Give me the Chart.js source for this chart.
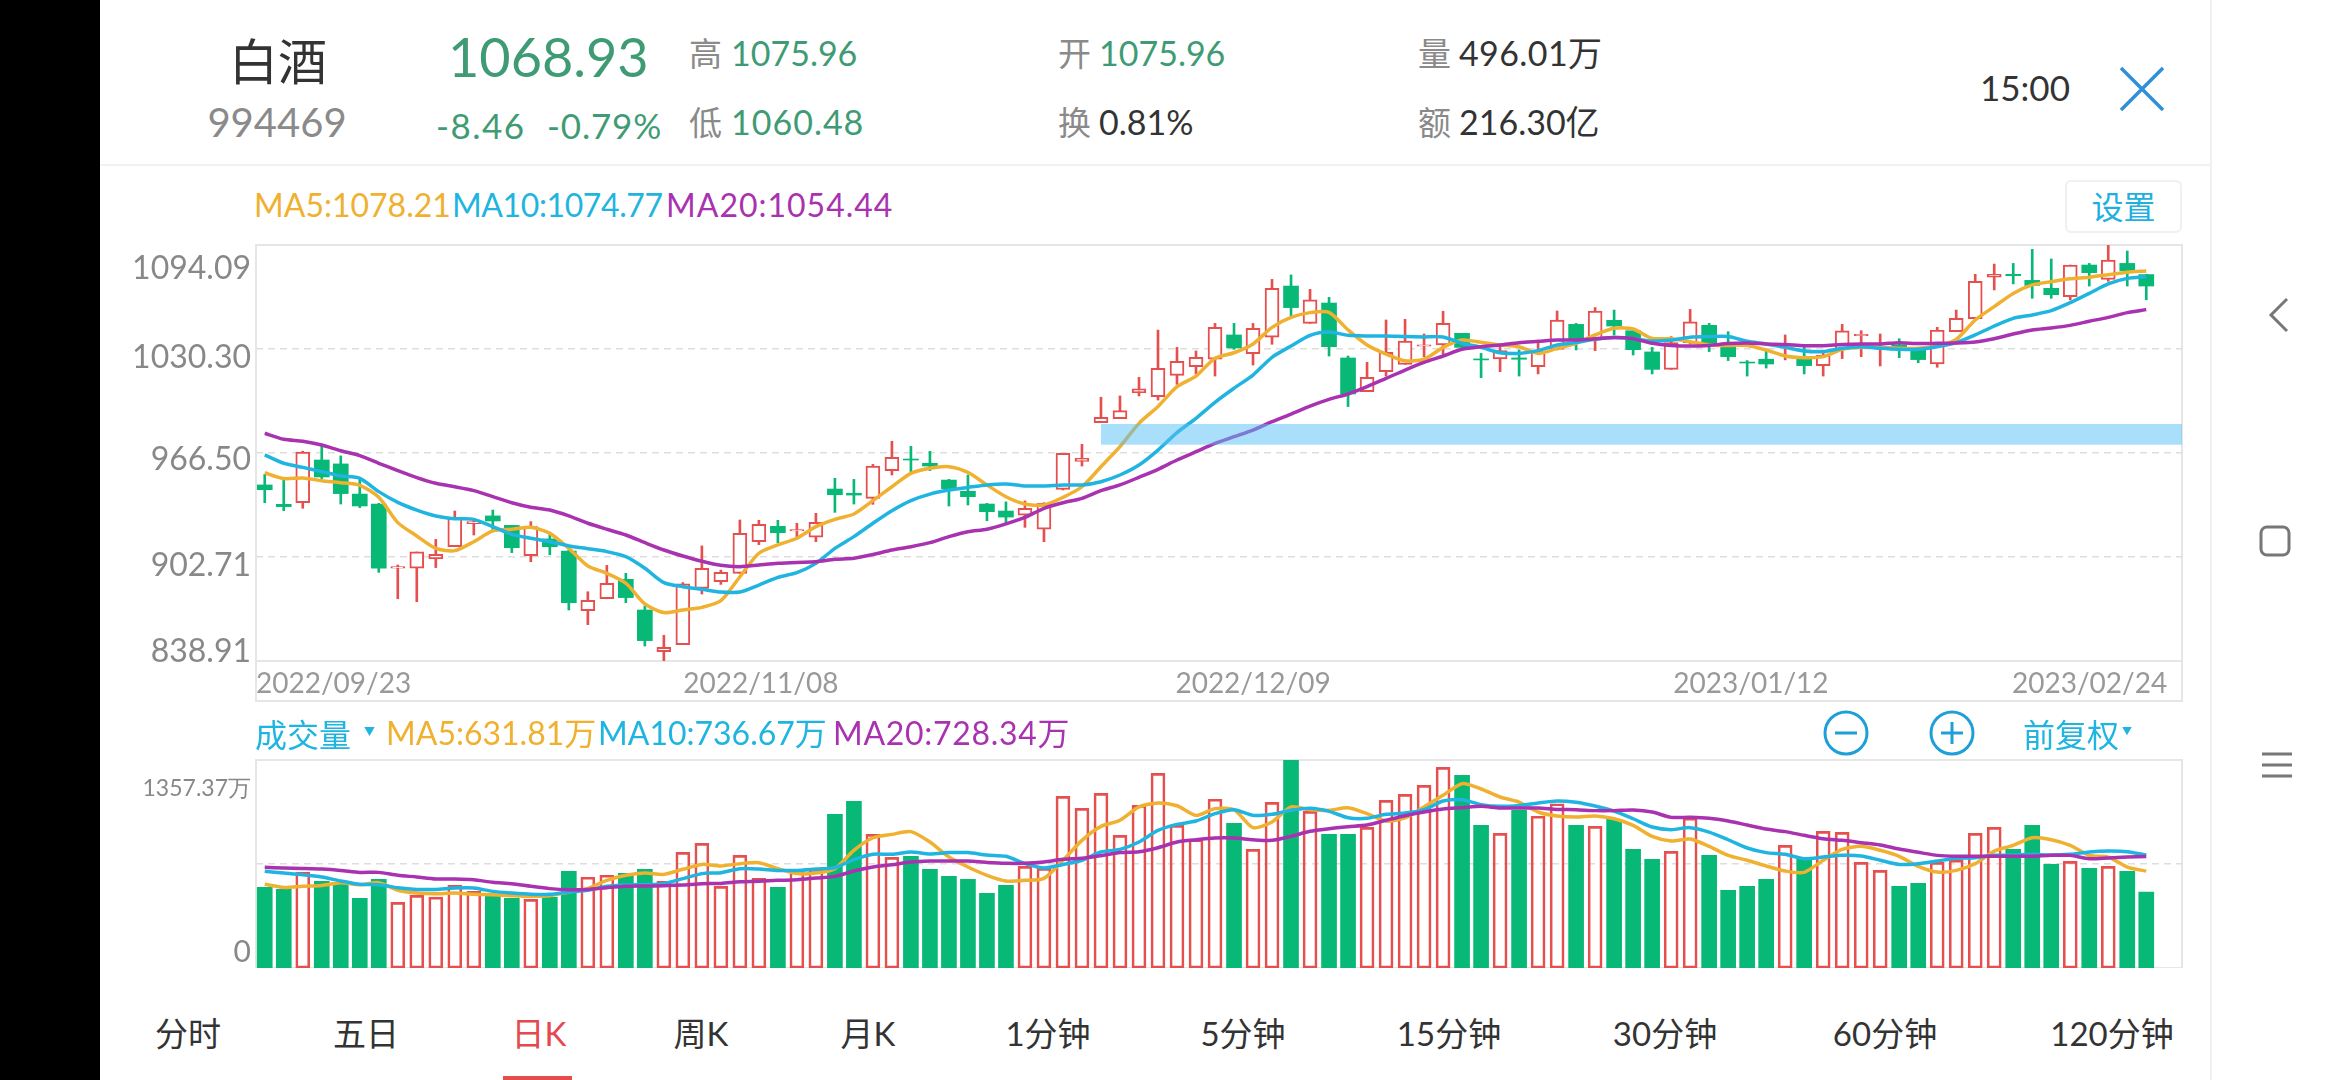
<!DOCTYPE html>
<html>
<head>
<meta charset="utf-8">
<script src="https://cdn.jsdelivr.net/npm/chart.js@4/dist/chart.umd.min.js"></script>
<style>
  html, body { margin: 0; padding: 0; background: #fff; }
  body { width: 2340px; height: 1080px; position: relative; overflow: hidden;
         font-family: Lato, "Noto Sans CJK SC", sans-serif; color: #333; }
  canvas { position: absolute; left: 100px; }
  .t { position: absolute; white-space: nowrap; line-height: 1; transform: translateY(-50%); }
  .c { transform: translate(-50%, -50%); }
  .gray { color: #8a8a8a; }
  .green { color: #3f9b74; }
  .orange { color: #f0b030; }
  .blue { color: #1fb5e0; }
  .purple { color: #a832b0; }
  #black_bar { position: absolute; left: 0; top: 0; width: 100px; height: 1080px; background: #000; }
  #side_line { position: absolute; left: 2210px; top: 0; width: 2px; height: 1080px; background: #f0f0f0; }
  #head_line { position: absolute; left: 100px; top: 164px; width: 2110px; height: 2px; background: #f2f2f2; }
  #setting { position: absolute; left: 2065px; top: 180px; width: 113px; height: 49px; border: 2px solid #f0f0f0;
             border-radius: 6px; text-align: center; line-height: 49px; font-size: 32px; color: #1fb0e0; }
  #tab_mark { position: absolute; left: 503px; top: 1076px; width: 69px; height: 4px; background: #e74c4c; }
  svg { position: absolute; }
</style>
</head>
<body>
<div id="black_bar"></div>
<div id="side_line"></div>
<div id="head_line"></div>

<div class="t c" style="left:278px;top:61px;font-size:49px">白酒</div>
<div class="t c gray" style="left:277px;top:122px;font-size:40px">994469</div>
<div class="t green" style="left:448px;top:57px;font-size:54px">1068.93</div>
<div class="t green" style="left:436px;top:125px;font-size:35px;letter-spacing:1.5px">-8.46</div>
<div class="t green" style="left:547px;top:125px;font-size:35px;letter-spacing:0.8px">-0.79%</div>
<div class="t gray" style="left:689px;top:53px;font-size:33px">高</div>
<div class="t green" style="left:731px;top:53px;font-size:34px">1075.96</div>
<div class="t gray" style="left:689px;top:122px;font-size:33px">低</div>
<div class="t green" style="left:731px;top:122px;font-size:34px;letter-spacing:1px">1060.48</div>
<div class="t gray" style="left:1058px;top:53px;font-size:33px">开</div>
<div class="t green" style="left:1099px;top:53px;font-size:34px">1075.96</div>
<div class="t gray" style="left:1058px;top:122px;font-size:33px">换</div>
<div class="t" style="left:1099px;top:122px;font-size:34px">0.81%</div>
<div class="t gray" style="left:1418px;top:53px;font-size:33px">量</div>
<div class="t" style="left:1459px;top:53px;font-size:34px;letter-spacing:0.4px">496.01万</div>
<div class="t gray" style="left:1418px;top:122px;font-size:33px">额</div>
<div class="t" style="left:1459px;top:122px;font-size:34px">216.30亿</div>
<div class="t" style="left:1980px;top:87px;font-size:35px">15:00</div>
<svg style="left:2118px;top:65px" width="48" height="48"><path d="M3 3L45 45M45 3L3 45" stroke="#2f8fd8" stroke-width="3.5" fill="none"/></svg>

<div class="t orange" style="left:254px;top:205px;font-size:32px">MA5:1078.21</div>
<div class="t blue" style="left:452px;top:205px;font-size:32px;letter-spacing:-0.4px">MA10:1074.77</div>
<div class="t purple" style="left:666px;top:205px;font-size:32px;letter-spacing:1px">MA20:1054.44</div>
<div id="setting">设置</div>

<canvas id="price_canvas" width="2110" height="502" style="top:200px"></canvas>
<canvas id="volume_canvas" width="2110" height="248" style="top:720px"></canvas>

<div class="t blue" style="left:255px;top:735px;font-size:32px">成交量</div>
<div class="t blue" style="left:364px;top:731px;font-size:11px">▼</div>
<div class="t orange" style="left:386px;top:733px;font-size:32px">MA5:631.81万</div>
<div class="t blue" style="left:598px;top:733px;font-size:32px">MA10:736.67万</div>
<div class="t purple" style="left:833px;top:733px;font-size:32px;letter-spacing:0.7px">MA20:728.34万</div>
<svg style="left:1822px;top:709px" width="48" height="48"><circle cx="24" cy="24" r="21" stroke="#1f9fd8" stroke-width="3" fill="none"/><path d="M13 24H35" stroke="#1f9fd8" stroke-width="3"/></svg>
<svg style="left:1928px;top:709px" width="48" height="48"><circle cx="24" cy="24" r="21" stroke="#1f9fd8" stroke-width="3" fill="none"/><path d="M13 24H35M24 13V35" stroke="#1f9fd8" stroke-width="3"/></svg>
<div class="t blue" style="left:2023px;top:735px;font-size:32px">前复权</div>
<div class="t blue" style="left:2122px;top:731px;font-size:10px">▼</div>

<div class="t c" style="left:188px;top:1033px;font-size:33px">分时</div>
<div class="t c" style="left:366px;top:1033px;font-size:33px">五日</div>
<div class="t c" style="left:539px;top:1033px;font-size:33px;color:#e5484d">日K</div>
<div class="t c" style="left:701px;top:1033px;font-size:33px">周K</div>
<div class="t c" style="left:868px;top:1033px;font-size:33px">月K</div>
<div class="t c" style="left:1048px;top:1033px;font-size:33px">1分钟</div>
<div class="t c" style="left:1243px;top:1033px;font-size:33px">5分钟</div>
<div class="t c" style="left:1449px;top:1033px;font-size:33px">15分钟</div>
<div class="t c" style="left:1665px;top:1033px;font-size:33px">30分钟</div>
<div class="t c" style="left:1885px;top:1033px;font-size:33px">60分钟</div>
<div class="t c" style="left:2112px;top:1033px;font-size:33px">120分钟</div>
<div id="tab_mark"></div>

<svg style="left:2263px;top:295px" width="34" height="40"><path d="M24 4L8 20L24 36" stroke="#777" stroke-width="3" fill="none"/></svg>
<svg style="left:2258px;top:524px" width="34" height="34"><rect x="3" y="3" width="28" height="28" rx="6" stroke="#777" stroke-width="3" fill="none"/></svg>
<svg style="left:2260px;top:750px" width="34" height="30"><path d="M2 4H32M2 15H32M2 26H32" stroke="#777" stroke-width="3" fill="none"/></svg>

<script>
const open_prices = [
  946.9, 935.0, 936.0, 962.2, 959.8, 941.3, 935.2, 895.8, 895.9, 901.5,
  909.0, 923.2, 927.9, 922.1, 903.5, 913.8, 906.4, 869.8, 877.1, 889.0,
  870.2, 844.6, 849.0, 883.5, 887.6, 892.7, 912.1, 921.5, 918.7, 914.8,
  944.4, 941.8, 938.7, 955.7, 962.8, 960.2, 949.9, 943.0, 935.2, 930.9,
  928.3, 919.7, 944.2, 961.4, 985.1, 987.6, 1003.5, 1001.1, 1014.1, 1019.5,
  1024.0, 1038.9, 1027.4, 1037.5, 1068.9, 1046.0, 1058.5, 1024.8, 1004.1, 1016.4,
  1020.9, 1032.1, 1032.8, 1039.9, 1024.2, 1024.2, 1024.8, 1019.5, 1030.1, 1045.4,
  1036.8, 1047.9, 1041.5, 1028.5, 1017.8, 1034.2, 1044.8, 1031.3, 1022.3, 1024.0,
  1032.5, 1025.6, 1020.1, 1029.7, 1038.5, 1031.3, 1032.8, 1029.7, 1021.1, 1040.9,
  1048.9, 1074.3, 1076.1, 1072.4, 1067.5, 1062.4, 1081.8, 1073.0, 1082.8, 1075.96
];
const close_prices = [
  944.0, 933.6, 967.1, 951.8, 941.6, 934.0, 895.9, 896.8, 905.8, 904.3,
  926.4, 924.4, 924.8, 908.4, 921.3, 909.0, 874.7, 876.1, 886.6, 877.8,
  851.4, 847.3, 886.2, 895.8, 893.3, 917.2, 922.7, 917.6, 919.5, 924.0,
  940.9, 940.7, 958.5, 963.8, 962.2, 958.5, 944.6, 939.7, 930.5, 927.2,
  932.6, 935.6, 966.3, 963.2, 988.4, 992.5, 1005.8, 1018.4, 1022.7, 1025.2,
  1043.6, 1030.9, 1043.0, 1067.5, 1055.7, 1060.4, 1031.7, 1002.7, 1012.9, 1028.3,
  1035.2, 1032.8, 1046.0, 1031.3, 1023.6, 1029.3, 1024.0, 1028.7, 1048.1, 1035.8,
  1053.6, 1044.4, 1029.9, 1017.8, 1034.2, 1046.9, 1033.8, 1025.6, 1021.7, 1021.1,
  1033.4, 1020.1, 1026.6, 1041.5, 1039.3, 1032.1, 1030.3, 1023.8, 1041.9, 1049.1,
  1071.8, 1076.1, 1075.3, 1069.3, 1063.6, 1081.8, 1077.1, 1084.9, 1078.3, 1068.93
];
const high_prices = [
  953.4, 949.9, 967.6, 970.8, 964.7, 950.3, 935.6, 897.8, 905.8, 913.5,
  930.9, 926.4, 931.5, 922.1, 924.4, 917.2, 907.0, 881.4, 897.6, 892.7,
  872.6, 854.7, 887.0, 909.5, 894.7, 925.4, 925.2, 925.2, 923.4, 929.5,
  951.0, 950.3, 959.5, 973.7, 970.6, 967.5, 950.3, 953.0, 935.6, 936.5,
  937.1, 936.0, 966.3, 971.8, 1000.7, 1001.5, 1012.9, 1041.9, 1031.3, 1029.1,
  1046.0, 1046.0, 1046.0, 1073.0, 1075.7, 1066.9, 1062.0, 1026.0, 1022.1, 1048.1,
  1048.5, 1039.5, 1053.4, 1039.9, 1027.6, 1032.1, 1029.7, 1033.8, 1053.6, 1046.0,
  1055.7, 1054.2, 1041.9, 1031.3, 1037.9, 1054.6, 1046.0, 1040.9, 1023.2, 1029.3,
  1038.9, 1031.7, 1027.6, 1045.4, 1041.5, 1039.5, 1036.6, 1031.3, 1043.6, 1054.2,
  1076.1, 1082.4, 1082.8, 1091.4, 1085.5, 1081.8, 1082.8, 1093.9, 1090.4, 1075.96
];
const low_prices = [
  936.0, 931.1, 932.6, 950.8, 935.2, 933.0, 893.3, 877.1, 875.3, 896.2,
  909.0, 916.2, 918.2, 905.4, 899.8, 904.1, 870.2, 861.2, 877.1, 874.7,
  848.1, 838.5, 849.0, 880.0, 885.9, 892.7, 910.3, 911.5, 913.8, 912.1,
  930.1, 935.2, 935.0, 953.0, 954.6, 955.7, 934.0, 934.6, 925.0, 923.8,
  920.9, 912.1, 943.8, 958.5, 985.1, 987.6, 1001.5, 999.0, 1008.6, 1015.0,
  1013.7, 1030.1, 1020.5, 1033.2, 1050.5, 1046.0, 1026.0, 995.0, 1004.1, 1013.7,
  1020.9, 1025.6, 1027.0, 1030.7, 1012.7, 1016.4, 1013.7, 1015.0, 1029.7, 1029.7,
  1029.3, 1038.9, 1026.6, 1015.0, 1017.8, 1033.4, 1028.7, 1023.2, 1013.7, 1018.6,
  1023.6, 1015.0, 1013.7, 1024.4, 1025.6, 1019.9, 1025.0, 1021.9, 1019.1, 1040.9,
  1048.5, 1066.5, 1070.2, 1061.4, 1061.4, 1060.4, 1068.9, 1071.8, 1068.9, 1060.48
];
const price_ma5 = [
  954.4, 950.8, 951.2, 949.5, 948.3, 946.7, 939.3, 923.8, 915.6, 908.0,
  906.6, 912.1, 918.7, 919.7, 920.9, 917.2, 908.0, 897.2, 892.7, 886.6,
  873.9, 868.6, 870.2, 871.8, 875.9, 890.6, 905.0, 910.1, 914.2, 921.3,
  925.8, 929.1, 937.3, 945.8, 954.0, 957.1, 958.1, 954.6, 946.9, 939.7,
  935.2, 934.6, 939.3, 945.8, 958.1, 970.4, 984.7, 995.0, 1007.2, 1013.7,
  1024.6, 1028.0, 1033.4, 1043.6, 1049.7, 1052.6, 1052.8, 1042.0, 1032.8, 1027.2,
  1023.1, 1024.0, 1031.3, 1035.8, 1034.4, 1032.8, 1031.7, 1027.6, 1030.7, 1033.8,
  1038.9, 1043.0, 1042.6, 1036.8, 1036.6, 1034.8, 1032.8, 1032.5, 1032.5, 1029.7,
  1026.0, 1025.0, 1025.6, 1030.1, 1031.3, 1031.3, 1030.7, 1030.7, 1032.1, 1036.2,
  1048.1, 1056.3, 1064.4, 1069.6, 1071.6, 1073.4, 1074.3, 1075.9, 1077.4, 1078.21
];
const price_ma10 = [
  965.3, 960.2, 957.7, 955.1, 952.4, 951.0, 942.8, 936.2, 931.5, 927.9,
  926.2, 925.8, 921.3, 916.6, 914.2, 912.1, 909.5, 907.8, 906.0, 902.9,
  895.8, 887.0, 884.5, 882.9, 881.2, 881.2, 885.5, 890.2, 893.1, 898.8,
  908.0, 915.2, 923.4, 931.1, 937.3, 941.3, 943.8, 945.4, 946.9, 947.5,
  946.3, 946.3, 946.9, 946.9, 948.9, 953.0, 959.1, 968.3, 979.0, 987.8,
  997.6, 1006.2, 1014.3, 1025.2, 1032.1, 1038.7, 1040.7, 1038.7, 1038.3, 1038.3,
  1037.9, 1037.7, 1037.7, 1033.8, 1031.3, 1028.0, 1027.6, 1029.3, 1032.8, 1034.2,
  1036.2, 1037.3, 1036.6, 1035.2, 1035.8, 1037.5, 1037.9, 1037.9, 1035.0, 1033.4,
  1031.3, 1029.1, 1028.7, 1030.7, 1031.7, 1030.7, 1030.1, 1030.1, 1031.7, 1034.2,
  1038.9, 1044.4, 1049.1, 1051.2, 1053.8, 1058.7, 1064.4, 1070.2, 1073.6, 1074.77
];
const price_ma20 = [
  978.6, 974.9, 973.7, 971.4, 967.9, 964.9, 960.2, 955.7, 951.4, 947.9,
  945.8, 943.4, 939.7, 936.0, 933.2, 931.5, 927.9, 923.4, 919.7, 916.2,
  911.5, 907.0, 903.3, 900.1, 897.6, 896.8, 897.8, 898.8, 899.4, 899.8,
  901.3, 901.9, 904.2, 907.0, 909.0, 911.5, 915.2, 918.2, 919.7, 923.0,
  927.0, 932.6, 936.0, 938.7, 943.4, 946.9, 951.6, 956.5, 962.2, 967.3,
  972.4, 976.5, 980.6, 985.7, 990.4, 995.3, 999.4, 1002.7, 1007.2, 1012.3,
  1017.4, 1022.1, 1026.0, 1030.1, 1031.7, 1032.8, 1034.2, 1035.0, 1035.8, 1035.8,
  1036.6, 1037.3, 1036.6, 1033.8, 1032.5, 1032.1, 1032.5, 1033.6, 1034.0, 1033.4,
  1033.0, 1032.3, 1032.3, 1033.0, 1033.4, 1033.4, 1034.2, 1033.6, 1033.8, 1034.0,
  1034.6, 1036.6, 1039.5, 1042.0, 1043.2, 1044.8, 1047.3, 1049.7, 1052.6, 1054.44
];
const volumes = [
  526, 513, 626, 566, 552, 455, 579, 428, 474, 463,
  539, 500, 474, 455, 448, 461, 631, 592, 605, 618,
  644, 566, 755, 813, 533, 735, 585, 526, 637, 644,
  1003, 1088, 872, 722, 729, 644, 598, 579, 487, 539,
  663, 650, 1120, 1042, 1140, 866, 1061, 1270, 931, 837,
  1101, 944, 774, 1081, 1357, 1022, 872, 872, 918, 1094,
  1133, 1192, 1309, 1257, 931, 879, 1029, 990, 1072, 931,
  924, 970, 774, 709, 761, 977, 735, 507, 533, 579,
  800, 709, 892, 885, 689, 637, 533, 552, 689, 703,
  879, 918, 774, 931, 676, 696, 650, 663, 631, 496
];
const volume_ma5 = [
  546, 526, 533, 539, 557, 544, 557, 507, 489, 485,
  489, 481, 478, 472, 468, 472, 496, 520, 572, 605,
  620, 611, 644, 676, 666, 681, 687, 648, 616, 620,
  648, 768, 850, 872, 890, 822, 724, 659, 605, 568,
  572, 585, 703, 833, 924, 964, 1051, 1077, 1059, 996,
  1040, 1033, 916, 953, 1051, 1033, 1029, 1046, 1007, 959,
  979, 1051, 1127, 1203, 1168, 1116, 1083, 1018, 992, 985,
  992, 974, 931, 859, 829, 842, 794, 735, 703, 666,
  633, 624, 703, 774, 794, 768, 729, 663, 626, 637,
  681, 763, 800, 850, 837, 800, 735, 724, 659, 632
];
const volume_ma10 = [
  631, 620, 609, 594, 568, 546, 544, 524, 513, 513,
  522, 522, 500, 489, 481, 481, 496, 507, 533, 542,
  544, 550, 583, 616, 622, 648, 646, 637, 637, 646,
  655, 707, 742, 742, 757, 744, 753, 753, 737, 729,
  681, 653, 676, 703, 757, 774, 822, 898, 937, 959,
  1007, 1033, 996, 1003, 1029, 1042, 1022, 981, 977, 1003,
  1011, 1033, 1090, 1098, 1066, 1055, 1061, 1077, 1090, 1081,
  1057, 1024, 974, 920, 903, 916, 887, 837, 783, 753,
  742, 713, 724, 735, 731, 703, 676, 681, 698, 716,
  720, 735, 737, 742, 737, 742, 757, 763, 759, 737
];
const volume_ma20 = [
  657, 653, 650, 646, 637, 624, 624, 605, 594, 581,
  581, 576, 559, 550, 533, 518, 511, 513, 524, 533,
  535, 537, 542, 550, 552, 563, 566, 572, 576, 587,
  598, 633, 659, 674, 692, 698, 698, 698, 689, 683,
  683, 692, 709, 716, 733, 753, 759, 785, 822, 837,
  848, 848, 837, 833, 859, 892, 909, 922, 933, 964,
  994, 1018, 1037, 1046, 1055, 1044, 1044, 1044, 1035, 1033,
  1027, 1027, 1031, 1018, 983, 983, 977, 959, 933, 907,
  890, 866, 844, 833, 818, 803, 776, 755, 735, 729,
  729, 729, 729, 729, 735, 735, 713, 718, 724, 728
];
const price_bounds = [838.91, 1094.09];
const volume_bounds = [0, 1357.37];
const index_bounds = [-0.46, 100.88];
const price_grid_values = [902.71, 966.50, 1030.30];
const price_labels = ['1094.09', '1030.30', '966.50', '902.71', '838.91'];
const price_label_at = [1079.4, 1024.8, 962.2, 897.4, 844.4];
const volume_grid_values = [678.69];
const volume_labels = ['1357.37万', '0'];
const volume_label_at = [1174, 101];
const date_labels = ['2022/09/23', '2022/11/08', '2022/12/09', '2023/01/12', '2023/02/24'];
const date_label_at = [-0.46, 26.1, 52.0, 78.2, 100.1];
const band_range = [971.6, 984.3];
const band_start_index = 44;

const UP_COLOR = '#e5504f';
const DOWN_COLOR = '#08b876';
const MA_COLORS = ['#f0b030', '#1fb5e0', '#a832b0'];
const LABEL_COLOR = '#888888';
const FRAME_COLOR = '#e6e6e6';
const GRID_COLOR = '#dedede';
const PLOT_LEFT_INSET = 156;
const PLOT_RIGHT_INSET = 28;

const up_indices = open_prices.map((_, i) => i).filter(i => close_prices[i] >= open_prices[i]);
const down_indices = open_prices.map((_, i) => i).filter(i => close_prices[i] < open_prices[i]);

function bar_dataset(indices, value_at, style) {
  return Object.assign({
    type: 'bar',
    data: indices.map(i => ({x: i, y: value_at(i)})),
    grouped: false,
    borderSkipped: false
  }, style);
}

function line_dataset(values, color, order) {
  return {
    type: 'line',
    data: values.map((y, i) => ({x: i, y: y})),
    borderColor: color,
    borderWidth: 3.5,
    pointRadius: 0,
    tension: 0.25,
    order: order
  };
}

function grid_scale(bounds, grid_values) {
  return {
    position: 'left',
    min: bounds[0],
    max: bounds[1],
    border: {display: false, dash: [7, 5]},
    ticks: {display: false},
    afterBuildTicks: scale => { scale.ticks = grid_values.map(v => ({value: v})); },
    afterFit: scale => { scale.width = 0; scale.paddingTop = 0; scale.paddingBottom = 0; },
    grid: {color: GRID_COLOR, lineWidth: 1.5, drawTicks: false, tickLength: 0}
  };
}

function label_scale(bounds, label_at, labels, font_at) {
  return {
    position: 'left',
    min: bounds[0],
    max: bounds[1],
    border: {display: false},
    grid: {display: false, drawTicks: false},
    afterBuildTicks: scale => { scale.ticks = label_at.map(v => ({value: v})); },
    afterFit: scale => { scale.width = PLOT_LEFT_INSET; scale.paddingTop = 0; scale.paddingBottom = 0; },
    ticks: {
      autoSkip: false,
      padding: 5,
      color: LABEL_COLOR,
      font: font_at,
      callback: (value, i) => labels[i]
    }
  };
}

/* Light frame around the plot area, the price one reaches down past the dates. */
function frame_plugin(extra_bottom) {
  return {
    id: 'frame',
    beforeDraw(chart) {
      const area = chart.chartArea;
      const ctx = chart.ctx;
      ctx.save();
      ctx.strokeStyle = FRAME_COLOR;
      ctx.lineWidth = 2;
      ctx.strokeRect(area.left, area.top, area.right - area.left, area.bottom - area.top + extra_bottom);
      ctx.beginPath();
      ctx.moveTo(area.left, area.bottom);
      ctx.lineTo(area.right, area.bottom);
      ctx.stroke();
      ctx.restore();
    }
  };
}

const band_plugin = {
  id: 'band',
  afterDatasetsDraw(chart) {
    const x = chart.scales.x;
    const y = chart.scales.y;
    const left = x.getPixelForValue(band_start_index);
    const top = y.getPixelForValue(band_range[1]);
    const bottom = y.getPixelForValue(band_range[0]);
    chart.ctx.save();
    chart.ctx.fillStyle = 'rgba(83, 192, 245, 0.5)';
    chart.ctx.fillRect(left, top, chart.chartArea.right - left, bottom - top);
    chart.ctx.restore();
  }
};

const price_chart = new Chart(document.getElementById('price_canvas'), {
  data: {
    datasets: [
      bar_dataset(up_indices, i => [low_prices[i], high_prices[i]],
        {backgroundColor: UP_COLOR, barThickness: 2, order: 9}),
      bar_dataset(down_indices, i => [low_prices[i], high_prices[i]],
        {backgroundColor: DOWN_COLOR, barThickness: 2, order: 9}),
      bar_dataset(up_indices, i => [open_prices[i], close_prices[i]],
        {backgroundColor: '#ffffff', borderColor: UP_COLOR, borderWidth: 2, barThickness: 14, order: 8}),
      bar_dataset(down_indices, i => [open_prices[i], close_prices[i]],
        {backgroundColor: DOWN_COLOR, barThickness: 15, order: 8}),
      line_dataset(price_ma5, MA_COLORS[0], 3),
      line_dataset(price_ma10, MA_COLORS[1], 2),
      line_dataset(price_ma20, MA_COLORS[2], 1)
    ]
  },
  options: {
    responsive: false,
    animation: false,
    devicePixelRatio: 1,
    layout: {padding: {top: 45, right: PLOT_RIGHT_INSET, bottom: 0, left: 0}},
    plugins: {legend: {display: false}, tooltip: {enabled: false}},
    scales: {
      x: {
        type: 'linear',
        offset: false,
        min: index_bounds[0],
        max: index_bounds[1],
        border: {display: false},
        grid: {display: false},
        afterBuildTicks: scale => { scale.ticks = date_label_at.map(v => ({value: v})); },
        afterFit: scale => { scale.height = 41; scale.paddingLeft = 0; scale.paddingRight = 0; },
        ticks: {
          autoSkip: false,
          maxRotation: 0,
          align: 'inner',
          padding: -2,
          color: '#999999',
          font: {size: 28, family: 'Lato'},
          callback: (value, i) => date_labels[i]
        }
      },
      y_labels: label_scale(price_bounds, price_label_at, price_labels, {size: 32, family: 'Lato'}),
      y: grid_scale(price_bounds, price_grid_values)
    }
  },
  plugins: [frame_plugin(40), band_plugin]
});

const volume_chart = new Chart(document.getElementById('volume_canvas'), {
  data: {
    datasets: [
      bar_dataset(up_indices, i => volumes[i],
        {backgroundColor: 'rgba(0,0,0,0)', borderColor: UP_COLOR, borderWidth: 2, barThickness: 14, order: 8}),
      bar_dataset(down_indices, i => volumes[i],
        {backgroundColor: DOWN_COLOR, barThickness: 15, order: 8}),
      line_dataset(volume_ma5, MA_COLORS[0], 3),
      line_dataset(volume_ma10, MA_COLORS[1], 2),
      line_dataset(volume_ma20, MA_COLORS[2], 1)
    ]
  },
  options: {
    responsive: false,
    animation: false,
    devicePixelRatio: 1,
    layout: {padding: {top: 40, right: PLOT_RIGHT_INSET, bottom: 0, left: 0}},
    plugins: {legend: {display: false}, tooltip: {enabled: false}},
    scales: {
      x: {
        type: 'linear',
        offset: false,
        min: index_bounds[0],
        max: index_bounds[1],
        display: false
      },
      y_labels: label_scale(volume_bounds, volume_label_at, volume_labels,
        ctx => ({size: ctx.index === 0 ? 23 : 30, family: 'Lato'})),
      y: grid_scale(volume_bounds, volume_grid_values)
    }
  },
  plugins: [frame_plugin(0)]
});
</script>
</body>
</html>
